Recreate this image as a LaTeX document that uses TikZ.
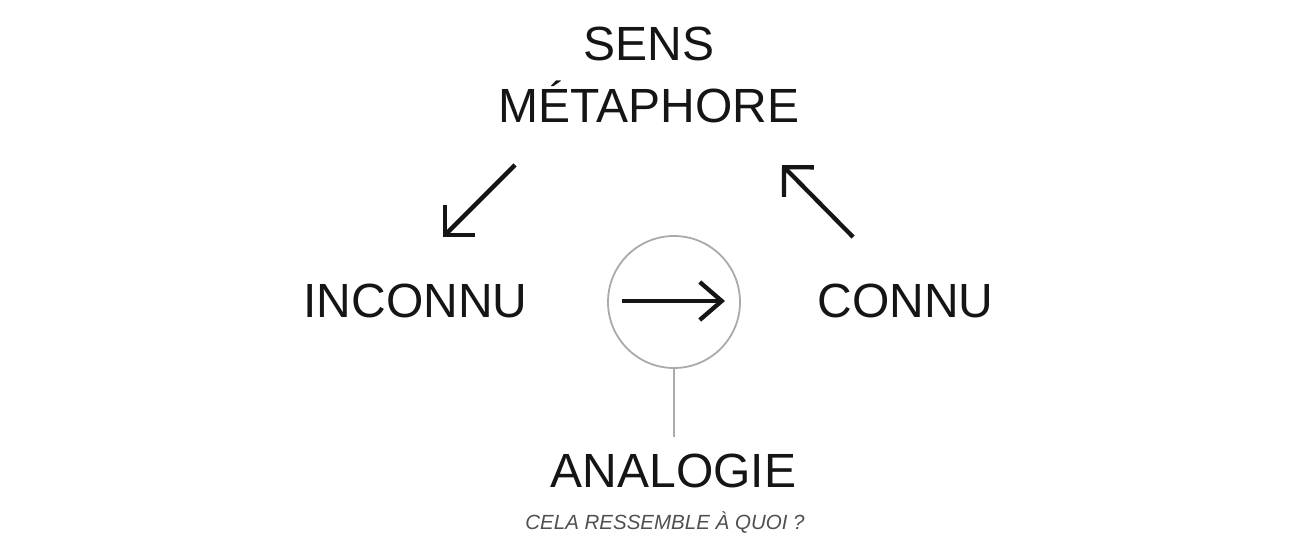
\documentclass[tikz,border=0pt]{standalone}
\usepackage{fontspec}
\setmainfont{Liberation Sans}
\usetikzlibrary{arrows.meta}
\definecolor{ink}{HTML}{151515}
\definecolor{ringgray}{HTML}{AAAAAA}
\definecolor{subgray}{HTML}{505050}
\tikzset{
  bigtext/.style={text=ink, inner sep=0pt, anchor=base, font=\fontsize{48}{58}\selectfont},
  subtext/.style={text=subgray, inner sep=0pt, anchor=base, font=\fontsize{20.5}{24}\selectfont\itshape},
  bigarrow/.style={draw=ink, line width=4.3pt, -{Straight Barb[length=21pt,width=42pt]}},
  smallarrow/.style={draw=ink, line width=4.3pt, -{Straight Barb[length=22pt,width=38pt]}},
  ring/.style={draw=ringgray, line width=1.8pt, circle, minimum size=132pt, inner sep=0pt},
  stem/.style={draw=ringgray, line width=1.8pt}
}
\begin{document}
\begin{tikzpicture}[x=1pt,y=-1pt]
\useasboundingbox (0,0) rectangle (1297,546);
\node[bigtext] (sens) at (649,60) {SENS};
\node[bigtext] (meta) at (649,122) {MÉTAPHORE};
\node[bigtext] (inconnu) at (415.5,317) {INCONNU};
\node[bigtext] (connu) at (905.5,317) {CONNU};
\node[bigtext] (analogie) at (673.5,487) {ANALOGIE};
\node[subtext] (question) at (665,529) {CELA RESSEMBLE À QUOI ?};
\node[ring] (ring) at (674,302) {};
\coordinate (a1s) at (515,165);
\coordinate (a1e) at (443,237);
\coordinate (a2s) at (853,237);
\coordinate (a2e) at (782,165);
\coordinate (a3s) at (622,301);
\coordinate (a3e) at (725,301);
\coordinate (stemend) at (674,437);
\draw[bigarrow] (a1s) -- (a1e);
\draw[bigarrow] (a2s) -- (a2e);
\draw[smallarrow] (a3s) -- (a3e);
\draw[stem] (ring.south) -- (stemend);
\end{tikzpicture}
\end{document}
